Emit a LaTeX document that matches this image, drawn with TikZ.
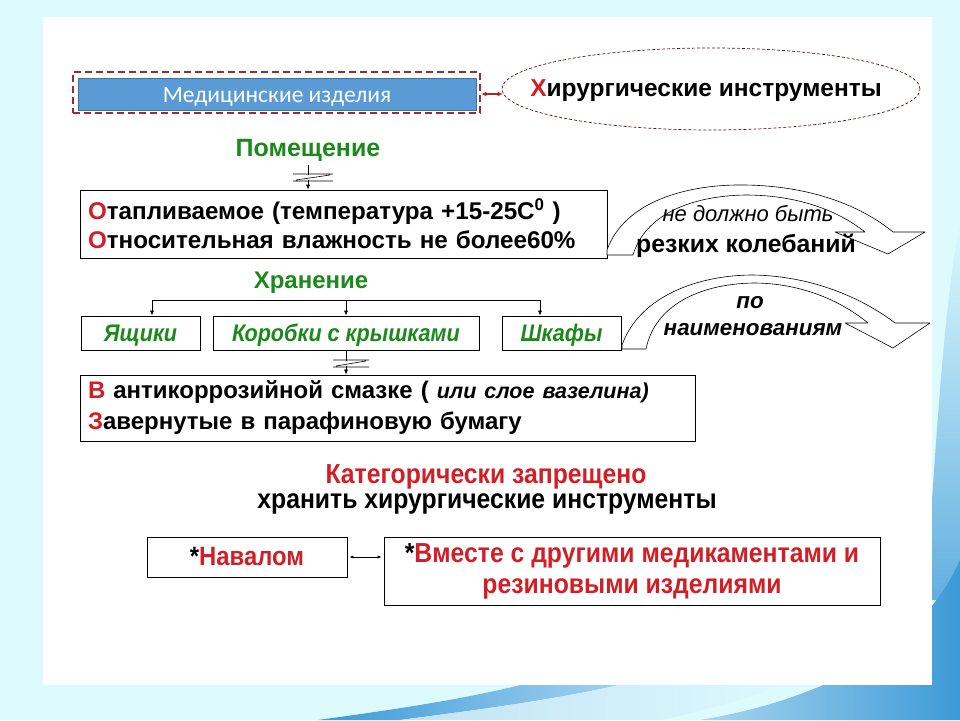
\documentclass[tikz,border=0pt]{standalone}
\usepackage{fontspec}
\setmainfont{Liberation Sans}
\newfontfamily\nrw[FakeStretch=0.9]{Liberation Sans}
\newfontfamily\calfont{Carlito}
\usetikzlibrary{shapes.geometric,arrows.meta}
\definecolor{bgcyan}{HTML}{DDFAFD}
\definecolor{dred}{HTML}{A3282E}
\definecolor{medblue}{HTML}{5B9BD5}
\definecolor{medborder}{HTML}{41719C}
\definecolor{grn}{HTML}{1B8A1B}
\definecolor{rd}{HTML}{D21F26}
\definecolor{swblue}{HTML}{3C9AD8}
\definecolor{swlight}{HTML}{A9D6F0}
\tikzset{
  box/.style={draw=black, line width=0.8pt, fill=white, inner sep=0pt},
  arr/.style={-{Latex[length=5pt,width=4pt]}, line width=0.6pt},
  blockarr/.style={draw=black, line width=0.6pt, fill=white, line join=round},
  brk/.style={line width=0.6pt},
  greenbox/.style={box, minimum height=34pt, text height=17pt, text depth=0pt, text=grn, font=\nrw\bfseries\itshape\fontsize{24}{26}\selectfont},
}
\begin{document}
\begin{tikzpicture}[x=1pt,y=-1pt]
\useasboundingbox (0,0) rectangle (960,720);
% background
\fill[bgcyan] (0,0) rectangle (960,720);
\shade[top color=bgcyan, bottom color=swblue!80] (960,220) .. controls (942,320) and (936,450) .. (925,600) -- (960,600) -- cycle;
\shade[left color=swlight, right color=swblue] (700,720) .. controls (820,700) and (920,650) .. (960,560) -- (960,720) -- cycle;
\shade[left color=swblue, right color=swlight] (318,720) .. controls (420,706) and (480,696) .. (540,680) -- (640,680) .. controls (560,700) and (460,712) .. (400,720) -- cycle;
\shade[left color=swlight!70!white, right color=bgcyan] (400,720) .. controls (460,712) and (560,700) .. (640,680) -- (800,680) .. controls (740,700) and (700,712) .. (660,720) -- cycle;
\fill[white] (43,17) rectangle (932,685);

% title
\node[draw=dred, line width=2.6pt, dash pattern=on 7pt off 4pt, minimum width=407pt, minimum height=41pt, inner sep=0pt] (med) at (276.5,92.5) {};
\node[fill=medblue, draw=medborder, line width=0.6pt, minimum width=398pt, minimum height=32pt, text height=16pt, text depth=0pt, text=white, inner sep=0pt, font=\calfont\fontsize{23.5}{26}\selectfont] (medin) at (277,94) {Медицинские изделия};
\node[ellipse, draw=dred!55!black, dash pattern=on 3pt off 2pt, line width=0.7pt, minimum width=418pt, minimum height=82pt, inner sep=0pt] (ell) at (711,89) {};
\node[font=\bfseries\fontsize{24.5}{28}\selectfont, inner sep=0pt] (hir) at (706,91) {\textcolor{rd}{Х}ирургические инструменты};
\draw[{Latex[length=5pt,width=5pt]}-{Latex[length=5pt,width=5pt]}, dred, line width=1.4pt] ([yshift=-1.5pt]med.east) -- ([yshift=-1.5pt,xshift=1pt]med.east -| ell.west);

% room
\node[text=grn, font=\bfseries\fontsize{25}{28}\selectfont] (pom) at (308,150) {Помещение};
\node[box, minimum width=527pt, minimum height=68pt, text width=511pt, inner xsep=8pt, align=left, font=\bfseries\fontsize{24.2}{29}\selectfont] (b1) at (343.5,224) {\textcolor{rd}{О}тапливаемое (температура +15-25С\textsuperscript{0} )\\\textcolor{rd}{О}тносительная влажность не более60\%};
\draw[arr] (pom) -- (pom |- b1.north);
\fill[white] (300,175) rectangle (316,180);
\draw[brk] (293,174) -- (333,174) (293,181) -- (333,181) (296,180) -- (330,175);

% block arrow 1
\draw[blockarr] (607,250) .. controls (625,200) and (690,184) .. (745,185) .. controls (810,186) and (860,205) .. (893,232) -- (925,232) -- (888,254) -- (835,232) -- (865,232) .. controls (840,212) and (800,195) .. (745,195) .. controls (690,196) and (645,215) .. (633,255) -- (607,255) -- cycle;
\node[font=\itshape\fontsize{22}{24}\selectfont] (t1) at (748,214) {не должно быть};
\node[font=\bfseries\fontsize{24.8}{26}\selectfont] (t2) at (746,246) {резких колебаний};

% storage
\node[text=grn, font=\bfseries\fontsize{24}{26}\selectfont] (xr) at (311,283) {Хранение};
\node[greenbox, minimum width=119pt] (ya) at (140.5,333) {Ящики};
\node[greenbox, minimum width=266pt] (kor) at (346,333) {Коробки с крышками};
\node[greenbox, minimum width=119pt] (shk) at (561.5,333) {Шкафы};
\coordinate (hl) at (152,300);
\coordinate (hr) at (540,300);
\draw[line width=0.6pt] (hl) -- (hr);
\draw[arr] (hl) -- (hl |- ya.north);
\draw[arr] (kor.north |- hl) -- (kor.north);
\draw[arr] (hr) -- (hr |- shk.north);

% block arrow 2
\draw[blockarr] (622,345) .. controls (640,295) and (700,275) .. (753,275) .. controls (815,276) and (865,300) .. (895,323) -- (930,323) -- (893,348) -- (845,323) -- (868,323) .. controls (840,300) and (800,283) .. (753,283) .. controls (700,284) and (655,305) .. (646,349) -- (622,349) -- cycle;
\node[font=\bfseries\itshape\fontsize{22.4}{24}\selectfont] (t3) at (750,303) {по};
\node[font=\bfseries\itshape\fontsize{22.4}{24}\selectfont] (t4) at (753,330) {наименованиям};

% box 3
\node[box, minimum width=615pt, minimum height=66pt, text width=599pt, inner xsep=8pt, align=left, font=\bfseries\fontsize{24}{31}\selectfont] (b3) at (387.5,408) {\textcolor{rd}{В} антикоррозийной смазке ( {\itshape\fontsize{21.5}{31}\selectfont или слое вазелина)}\\\textcolor{rd}{З}авернутые в парафиновую бумагу};
\draw[arr] (kor.south) -- (kor.south |- b3.north);
\fill[white] (338,361) rectangle (354,366);
\draw[brk] (333,360) -- (369,360) (333,367) -- (369,367) (336,366) -- (366,361);

% forbidden
\node[text=rd, font=\nrw\bfseries\fontsize{27.5}{30}\selectfont] (kat) at (486,477) {Категорически запрещено};
\node[font=\nrw\bfseries\fontsize{27.5}{30}\selectfont] (hr2) at (487,504) {хранить хирургические инструменты};
\node[box, minimum width=200pt, minimum height=40pt, font=\nrw\bfseries\fontsize{26.5}{28}\selectfont] (nav) at (247,557) {*\textcolor{rd}{Навалом}};
\node[box, minimum width=496pt, minimum height=68pt, align=center, font=\nrw\bfseries\fontsize{27.5}{31}\selectfont] (vm) at (632,571) {*\textcolor{rd}{Вместе с другими медикаментами и}\\\textcolor{rd}{резиновыми изделиями}};
\draw[{Latex[length=4pt,width=3pt]}-{Latex[length=4pt,width=3pt]}, line width=0.5pt] ([xshift=2pt]nav.east) -- ([xshift=-2pt]nav.east -| vm.west);
\end{tikzpicture}
\end{document}
